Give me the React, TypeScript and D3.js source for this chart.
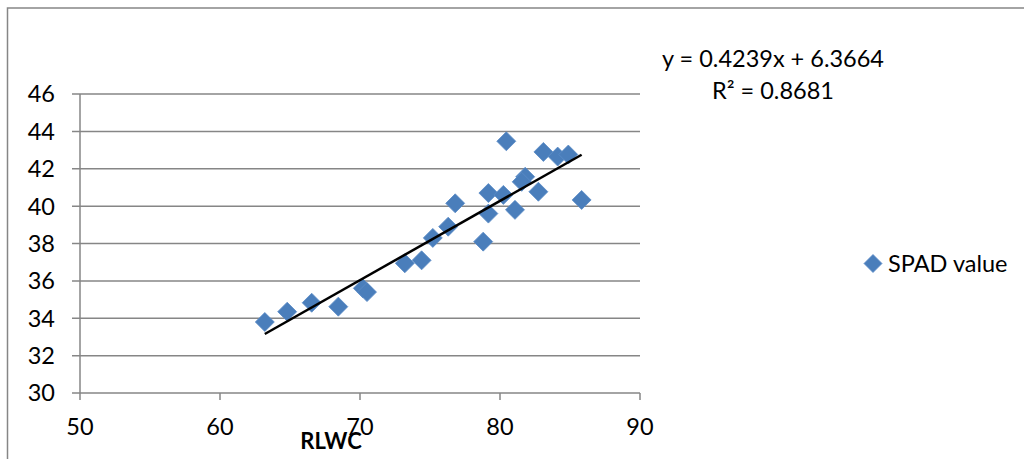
import React from "react";
import * as d3 from "d3";

const rlwc = [63.2, 64.8, 66.55, 68.45, 70.2, 70.5, 73.2, 74.4, 75.2, 76.3, 76.8, 78.8, 79.17, 79.17, 80.24, 80.45, 81.07, 81.8, 81.55, 82.74, 83.1, 84.12, 84.88, 85.83];
const spad = [33.8, 34.35, 34.83, 34.62, 35.6, 35.4, 36.94, 37.1, 38.3, 38.9, 40.15, 38.1, 40.7, 39.6, 40.6, 43.47, 39.8, 41.57, 41.3, 40.77, 42.9, 42.65, 42.76, 40.33];
const xTicks = [50, 60, 70, 80, 90];
const yTicks = [30, 32, 34, 36, 38, 40, 42, 44, 46];
const slope = 0.4239;
const intercept = 6.3664;
const equationText = "y = 0.4239x + 6.3664";
const r2Text = "R² = 0.8681";
const seriesName = "SPAD value";
const xTitle = "RLWC";

const FONT = "Lato, 'Liberation Sans', sans-serif";
const GRID = "#868686";
const FS = 23.5;

export default function App() {
  const x = d3.scaleLinear().domain([50, 90]).range([80, 640]);
  const y = d3.scaleLinear().domain([30, 46]).range([393, 94]);
  const xMin = d3.min(rlwc)!;
  const xMax = d3.max(rlwc)!;
  const line = d3.line<number>().x((d) => x(d)).y((d) => y(slope * d + intercept));
  const diamond = (cx: number, cy: number, r: number) =>
    `M${cx},${cy - r}L${cx + r},${cy}L${cx},${cy + r}L${cx - r},${cy}Z`;

  return (
    <svg width={1024} height={459} style={{ position: "absolute", left: 0, top: 0, background: "#fff" }} fontFamily={FONT}>
      <rect x={7.5} y={8} width={1100} height={500} fill="#fff" stroke={GRID} strokeWidth={1.5} />
      {yTicks.map((t) => (
        <g key={"y" + t}>
          <line x1={72} x2={640} y1={y(t)} y2={y(t)} stroke={GRID} strokeWidth={1.5} />
          <text x={55} y={y(t)} dy="0.36em" textAnchor="end" fontSize={FS} fill="#000">{t}</text>
        </g>
      ))}
      <line x1={x(50)} x2={x(50)} y1={y(46)} y2={y(30)} stroke={GRID} strokeWidth={1.5} />
      {xTicks.map((t) => (
        <g key={"x" + t}>
          <line x1={x(t)} x2={x(t)} y1={y(30)} y2={y(30) + 7} stroke={GRID} strokeWidth={1.5} />
          <text x={x(t)} y={435} textAnchor="middle" fontSize={FS} fill="#000">{t}</text>
        </g>
      ))}
      <text x={331} y={449} textAnchor="middle" fontSize={22} fontWeight="bold" fill="#000">{xTitle}</text>
      {rlwc.map((v, i) => (
        <path key={"p" + i} d={diamond(x(v), y(spad[i]), 9.5)} fill="#4a7ebb" stroke="#5b8bc6" strokeWidth={0.8} />
      ))}
      <path d={line([xMin, xMax]) || ""} stroke="#000" strokeWidth={2.5} fill="none" />
      <text x={662} y={67} fontSize={FS} fill="#000">{equationText}</text>
      <text x={712} y={99} fontSize={FS} fill="#000">{r2Text}</text>
      <path d={diamond(873, 263.5, 9)} fill="#4a7ebb" stroke="#5b8bc6" strokeWidth={0.8} />
      <text x={888} y={272} fontSize={FS} fill="#000">{seriesName}</text>
    </svg>
  );
}
